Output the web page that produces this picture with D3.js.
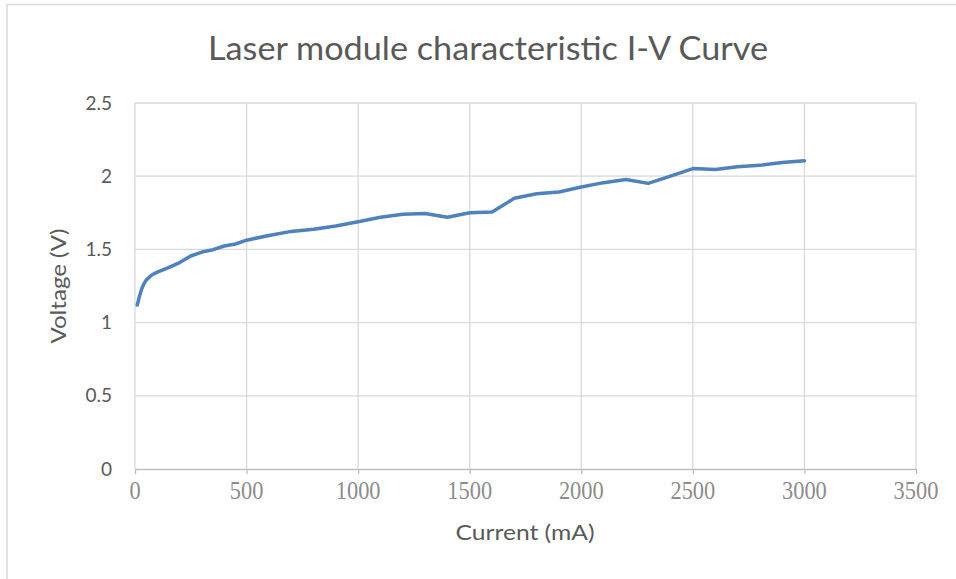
<!DOCTYPE html>
<html>
<head>
<meta charset="utf-8">
<script src="https://cdn.jsdelivr.net/npm/d3@7"></script>
<style>
  html, body { margin: 0; padding: 0; background: #fff; }
  svg { display: block; }
</style>
</head>
<body>
<svg id="chart" width="956" height="579"></svg>
<script>
const titleText = "Laser module characteristic I-V Curve";
const xTitle = "Current (mA)";
const yTitle = "Voltage (V)";
const current = [10, 20, 30, 40, 50, 75, 100, 150, 200, 250, 300, 350, 400, 450, 500, 600, 700, 800, 900, 1000, 1100, 1200, 1300, 1400, 1500, 1600, 1700, 1800, 1900, 2000, 2100, 2200, 2300, 2400, 2500, 2600, 2700, 2800, 2900, 3000];
const voltage = [1.12, 1.18, 1.23, 1.265, 1.29, 1.325, 1.345, 1.375, 1.41, 1.455, 1.482, 1.498, 1.523, 1.537, 1.563, 1.595, 1.623, 1.638, 1.66, 1.689, 1.719, 1.74, 1.745, 1.72, 1.75, 1.755, 1.849, 1.88, 1.892, 1.926, 1.956, 1.977, 1.951, 2.001, 2.052, 2.046, 2.064, 2.074, 2.093, 2.106];
const xTicks = [0, 500, 1000, 1500, 2000, 2500, 3000, 3500];
const yTicks = [0, 0.5, 1, 1.5, 2, 2.5];

const svg = d3.select("#chart");
const L = 135, R = 916, T = 103, B = 469;
const sans = "Lato, 'Open Sans', sans-serif";

const x = d3.scaleLinear().domain([0, 3500]).range([L, R]);
const y = d3.scaleLinear().domain([0, 2.5]).range([B, T]);

// outer chart border
svg.append("path")
  .attr("d", "M7,579 V4.5 H956")
  .attr("fill", "none").attr("stroke", "#d9d9d9").attr("stroke-width", 1.5);

// vertical gridlines
svg.append("g").selectAll("line").data(xTicks).join("line")
  .attr("x1", d => x(d)).attr("x2", d => x(d))
  .attr("y1", T).attr("y2", B)
  .attr("stroke", "#d9d9d9").attr("stroke-width", 1.3);

// horizontal gridlines
svg.append("g").selectAll("line").data(yTicks.filter(d => d > 0)).join("line")
  .attr("x1", L).attr("x2", R)
  .attr("y1", d => y(d)).attr("y2", d => y(d))
  .attr("stroke", "#d9d9d9").attr("stroke-width", 1.3);

// x axis
const xAxis = d3.axisBottom(x).tickValues(xTicks).tickSize(5).tickFormat("");
const gx = svg.append("g").attr("transform", `translate(0,${B})`).call(xAxis);
gx.select(".domain").attr("stroke", "#bfbfbf").attr("stroke-width", 1.3).attr("d", `M${L},0.5H${R}`);
gx.selectAll(".tick line").attr("stroke", "#bfbfbf").attr("stroke-width", 1.3);

// x tick labels (condensed serif)
svg.append("g").selectAll("text").data(xTicks).join("text")
  .attr("x", d => x(d)).attr("y", 499)
  .attr("text-anchor", "middle")
  .attr("font-family", "Liberation Serif, serif")
  .attr("font-size", 26)
  .attr("fill", "#8c8c8c")
  .attr("textLength", d => String(d).length * 11.2)
  .attr("lengthAdjust", "spacingAndGlyphs")
  .text(d => d);

// y tick labels
svg.append("g").selectAll("text").data(yTicks).join("text")
  .attr("x", 112).attr("y", d => y(d) + 6.5)
  .attr("text-anchor", "end")
  .attr("font-family", sans)
  .attr("font-size", 19)
  .attr("fill", "#595959")
  .text(d => d);

// line
const line = d3.line().x((d, i) => x(current[i])).y(d => y(d));
svg.append("path")
  .datum(voltage)
  .attr("d", line)
  .attr("fill", "none")
  .attr("stroke", "#4f81bd")
  .attr("stroke-width", 3.5)
  .attr("stroke-linejoin", "round")
  .attr("stroke-linecap", "round");

// title
svg.append("text")
  .attr("x", 488).attr("y", 60)
  .attr("text-anchor", "middle")
  .attr("font-family", sans)
  .attr("font-size", 32)
  .attr("fill", "#595959")
  .attr("textLength", 560).attr("lengthAdjust", "spacingAndGlyphs")
  .text(titleText);

// x axis title
svg.append("text")
  .attr("x", 525).attr("y", 540)
  .attr("text-anchor", "middle")
  .attr("font-family", sans)
  .attr("font-size", 21)
  .attr("fill", "#595959")
  .attr("textLength", 139).attr("lengthAdjust", "spacingAndGlyphs")
  .text(xTitle);

// y axis title
svg.append("text")
  .attr("transform", `translate(66,${(T + B) / 2}) rotate(-90)`)
  .attr("text-anchor", "middle")
  .attr("font-family", sans)
  .attr("font-size", 21)
  .attr("fill", "#595959")
  .attr("textLength", 115).attr("lengthAdjust", "spacingAndGlyphs")
  .text(yTitle);
</script>
</body>
</html>
